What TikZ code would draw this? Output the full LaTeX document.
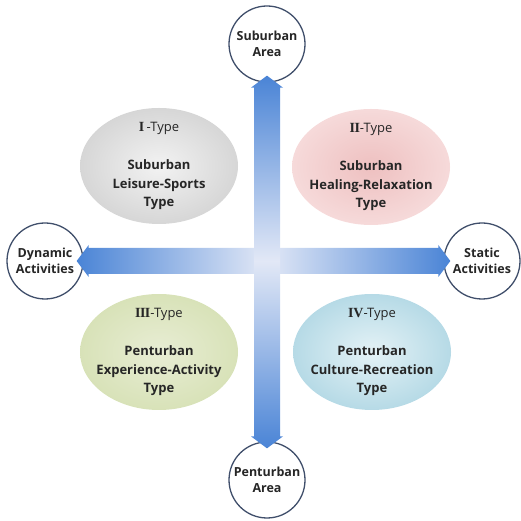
\documentclass[tikz,border=0pt]{standalone}
\usepackage{fontspec}
\setmainfont{Open Sans}
\newfontfamily\romanfont{Liberation Serif}
\usetikzlibrary{calc,shapes.geometric}
\definecolor{arealine}{HTML}{404F6B}
\definecolor{arrowblue}{HTML}{4A84D6}
\definecolor{arrowlight}{HTML}{E2E8F6}
\definecolor{txt}{HTML}{262626}
\newcommand{\typelabel}[1]{{\romanfont\bfseries\fontsize{14}{18.5}\selectfont #1}{\mdseries -Type}}

\begin{document}
\begin{tikzpicture}[x=1pt,y=1pt,
    area/.style={circle,draw=arealine,line width=1.3pt,fill=white,minimum size=76pt,inner sep=0pt,
      align=center,text=txt,font=\bfseries\fontsize{12.5}{16}\selectfont},
    quad/.style={ellipse,minimum width=158pt,minimum height=116pt,inner sep=-20pt,
      align=center,text=txt,font=\bfseries\fontsize{13}{18.5}\selectfont}]
  \useasboundingbox (0,0) rectangle (521,521);
  \coordinate (c) at (267,260);
  % the four areas
  \node[area] (sub) at (267,477) {Suburban\\Area};
  \node[area] (pen) at (267,41) {Penturban\\Area};
  \node[area] (dyn) at (45,260) {Dynamic\\Activities};
  \node[area] (sta) at (482,260) {Static\\Activities};
  % the four types
  \node[quad,inner color=black!5,outer color=black!16] (t1) at (159,355)
    {\typelabel{I\,}\\[20pt]Suburban\\Leisure-Sports\\Type};
  \node[quad,inner color={rgb,255:red,238;green,192;blue,192},outer color={rgb,255:red,246;green,218;blue,218}] (t2) at (371,354)
    {\typelabel{I\kern-0.6pt I}\\[20pt]Suburban\\Healing-Relaxation\\Type};
  \node[quad,inner color={rgb,255:red,232;green,237;blue,212},outer color={rgb,255:red,216;green,226;blue,184}] (t3) at (159,169)
    {\typelabel{I\kern-0.6pt I\kern-0.6pt I}\\[20pt]Penturban\\Experience-Activity\\Type};
  \node[quad,inner color={rgb,255:red,228;green,242;blue,246},outer color={rgb,255:red,182;green,218;blue,230}] (t4) at (372,169)
    {\typelabel{IV}\\[20pt]Penturban\\Culture-Recreation\\Type};
  % axes
  \shade[left color=arrowblue,right color=arrowlight] ($(c)+(0,13)$) -- ($(dyn.east)+(5,13)$)
    -- ($(dyn.east)+(5,16)$) -- ($(dyn.east)+(-7,0)$) -- ($(dyn.east)+(5,-16)$)
    -- ($(dyn.east)+(5,-13)$) -- ($(c)+(0,-13)$) -- cycle;
  \shade[left color=arrowlight,right color=arrowblue] ($(c)+(0,13)$) -- ($(sta.west)+(-5,13)$)
    -- ($(sta.west)+(-5,16)$) -- ($(sta.west)+(7,0)$) -- ($(sta.west)+(-5,-16)$)
    -- ($(sta.west)+(-5,-13)$) -- ($(c)+(0,-13)$) -- cycle;
  \shade[top color=arrowblue,bottom color=arrowlight] ($(c)+(-13,0)$) -- ($(sub.south)+(-13,-5)$)
    -- ($(sub.south)+(-16,-5)$) -- ($(sub.south)+(0,7)$) -- ($(sub.south)+(16,-5)$)
    -- ($(sub.south)+(13,-5)$) -- ($(c)+(13,0)$) -- cycle;
  \shade[top color=arrowlight,bottom color=arrowblue] ($(c)+(-13,0)$) -- ($(pen.north)+(-13,5)$)
    -- ($(pen.north)+(-16,5)$) -- ($(pen.north)+(0,-7)$) -- ($(pen.north)+(16,5)$)
    -- ($(pen.north)+(13,5)$) -- ($(c)+(13,0)$) -- cycle;
\end{tikzpicture}
\end{document}
